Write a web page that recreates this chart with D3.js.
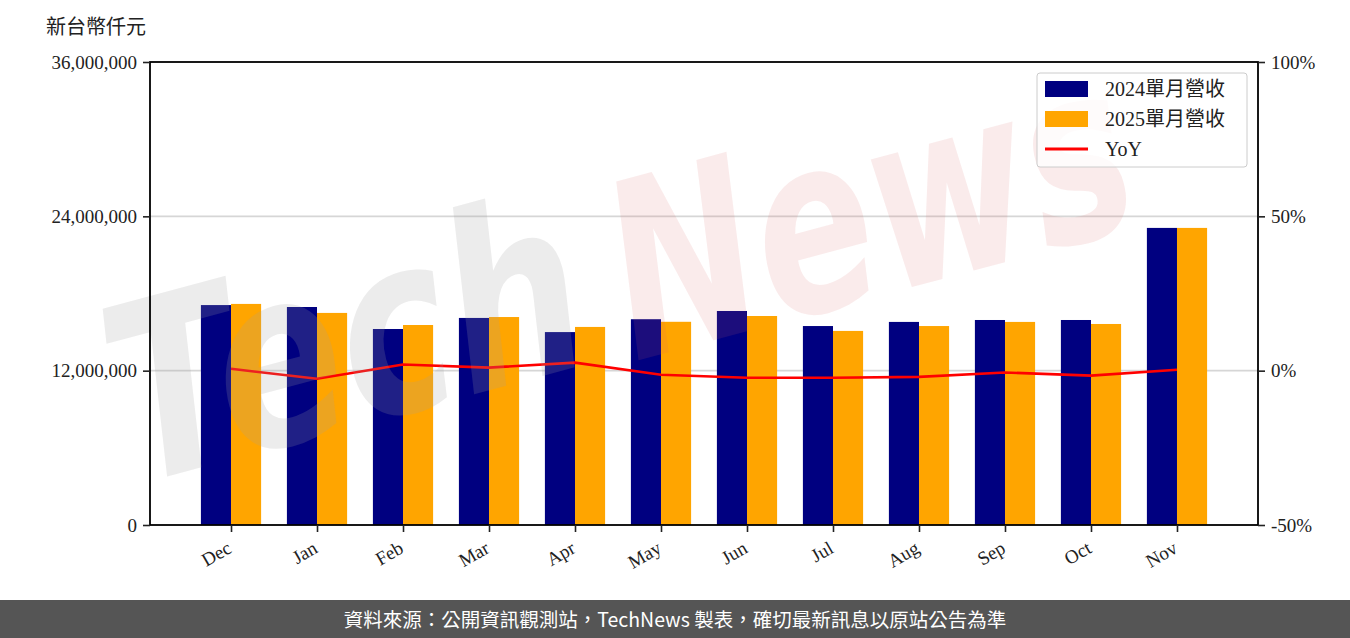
<!DOCTYPE html>
<html><head><meta charset="utf-8">
<script src="https://cdn.jsdelivr.net/npm/d3@7"></script>
<style>
body{margin:0;background:#fff;}
svg{display:block;}
</style></head>
<body>
<script>
const categories = ["Dec","Jan","Feb","Mar","Apr","May","Jun","Jul","Aug","Sep","Oct","Nov"];
const rev2024 = [17100000,16950000,15240000,16100000,15000000,16000000,16640000,15470000,15790000,15940000,15940000,23100000];
const rev2025 = [17190000,16490000,15550000,16170000,15400000,15800000,16250000,15090000,15470000,15790000,15630000,23100000];
const yoy = [0.6,-2.6,2.0,1.0,2.6,-1.3,-2.3,-2.3,-2.0,-0.6,-1.6,0.3];
const leftTicks = [0,12000000,24000000,36000000];
const rightTicks = [-50,0,50,100];
const legendLabels = ["2024單月營收","2025單月營收","YoY"];

const W=1350,H=638;
const m={l:150,r:1258,t:62,b:525};
const svg=d3.select("body").append("svg").attr("width",W).attr("height",H);
const font='"Liberation Serif","DejaVu Serif","Noto Sans CJK TC",serif';

const x=d3.scalePoint().domain(categories).range([m.l,m.r]).padding(0.942);
const step=x.step();
const bw=step*0.35;
const y=d3.scaleLinear().domain([0,36000000]).range([m.b,m.t]);
const y2=d3.scaleLinear().domain([-50,100]).range([m.b,m.t]);

// gridlines
svg.append("g").selectAll("line").data([12000000,24000000]).join("line")
 .attr("x1",m.l).attr("x2",m.r).attr("y1",d=>y(d)).attr("y2",d=>y(d))
 .attr("stroke","#d6d6d6").attr("stroke-width",1.6);

// bars
svg.append("g").selectAll("rect").data(rev2024).join("rect")
 .attr("x",(d,i)=>x(categories[i])-bw).attr("width",bw)
 .attr("y",d=>y(d)).attr("height",d=>m.b-y(d)).attr("fill","#000080");
svg.append("g").selectAll("rect").data(rev2025).join("rect")
 .attr("x",(d,i)=>x(categories[i])).attr("width",bw)
 .attr("y",d=>y(d)).attr("height",d=>m.b-y(d)).attr("fill","#ffa500");

// yoy line
svg.append("path").datum(yoy)
 .attr("d",d3.line().x((d,i)=>x(categories[i])).y(d=>y2(d)))
 .attr("fill","none").attr("stroke","#ff0000").attr("stroke-width",2.6);

// watermark
const wm=svg.append("g").attr("transform","translate(135,485) rotate(-15)");
const wfont='"DejaVu Sans","Noto Sans",sans-serif';
wm.append("text").attr("x",0).attr("y",0)
 .attr("font-family",wfont).attr("font-weight","bold").attr("font-style","italic")
 .attr("font-size",245).attr("textLength",480).attr("lengthAdjust","spacingAndGlyphs")
 .attr("fill","rgba(160,160,160,0.2)").text("Tech");
wm.append("text").attr("x",515).attr("y",10)
 .attr("font-family",wfont).attr("font-weight","bold").attr("font-style","italic")
 .attr("font-size",245).attr("textLength",530).attr("lengthAdjust","spacingAndGlyphs")
 .attr("fill","rgba(220,100,100,0.13)").text("News");

// frame
svg.append("rect").attr("x",m.l).attr("y",m.t).attr("width",m.r-m.l).attr("height",m.b-m.t)
 .attr("fill","none").attr("stroke","#000").attr("stroke-width",1.8);

// axes
const la=svg.append("g").attr("transform",`translate(${m.l},0)`)
 .call(d3.axisLeft(y).tickValues(leftTicks).tickFormat(d3.format(",")).tickSize(7).tickPadding(6));
const ra=svg.append("g").attr("transform",`translate(${m.r},0)`)
 .call(d3.axisRight(y2).tickValues(rightTicks).tickFormat(d=>d+"%").tickSize(7).tickPadding(6));
const ba=svg.append("g").attr("transform",`translate(0,${m.b})`)
 .call(d3.axisBottom(x).tickSize(7).tickPadding(8));
[la,ra,ba].forEach(g=>{
  g.attr("font-size",19).attr("font-family",font);
  g.select(".domain").remove();
  g.selectAll(".tick line").attr("stroke","#222").attr("stroke-width",1.6);
  g.selectAll("text").attr("fill","#222").attr("font-size",19).attr("font-family",font);
});
ba.selectAll("text").attr("text-anchor","end").attr("y",0).attr("dy","0.35em")
 .attr("transform","translate(-2,21) rotate(-30)");

// y label
svg.append("text").attr("x",96).attr("y",34).attr("text-anchor","middle")
 .attr("font-family",font).attr("font-size",20).attr("fill","#222").text("新台幣仟元");

// legend
const lg=svg.append("g");
lg.append("rect").attr("x",1037).attr("y",73).attr("width",210).attr("height",94).attr("rx",3)
 .attr("fill","rgba(255,255,255,0.8)").attr("stroke","#ccc").attr("stroke-width",1);
const colors=["#000080","#ffa500","#ff0000"];
legendLabels.forEach((t,i)=>{
  const cy=89+i*30;
  if(i<2) lg.append("rect").attr("x",1045).attr("y",cy-8).attr("width",43).attr("height",16).attr("fill",colors[i]);
  else lg.append("line").attr("x1",1045).attr("x2",1088).attr("y1",cy).attr("y2",cy).attr("stroke",colors[i]).attr("stroke-width",3);
  lg.append("text").attr("x",1105).attr("y",cy).attr("dy","0.35em").attr("font-family",font).attr("font-size",20).attr("fill","#222").text(t);
});

// footer
svg.append("rect").attr("x",0).attr("y",600).attr("width",W).attr("height",38).attr("fill","#555555");
svg.append("text").attr("x",W/2).attr("y",620).attr("dy","0.35em").attr("text-anchor","middle")
 .attr("font-family",'"Noto Sans CJK TC","Noto Sans",sans-serif').attr("font-size",19.5).attr("fill","#fff")
 .text("資料來源：公開資訊觀測站，TechNews 製表，確切最新訊息以原站公告為準");
</script>
</body></html>
